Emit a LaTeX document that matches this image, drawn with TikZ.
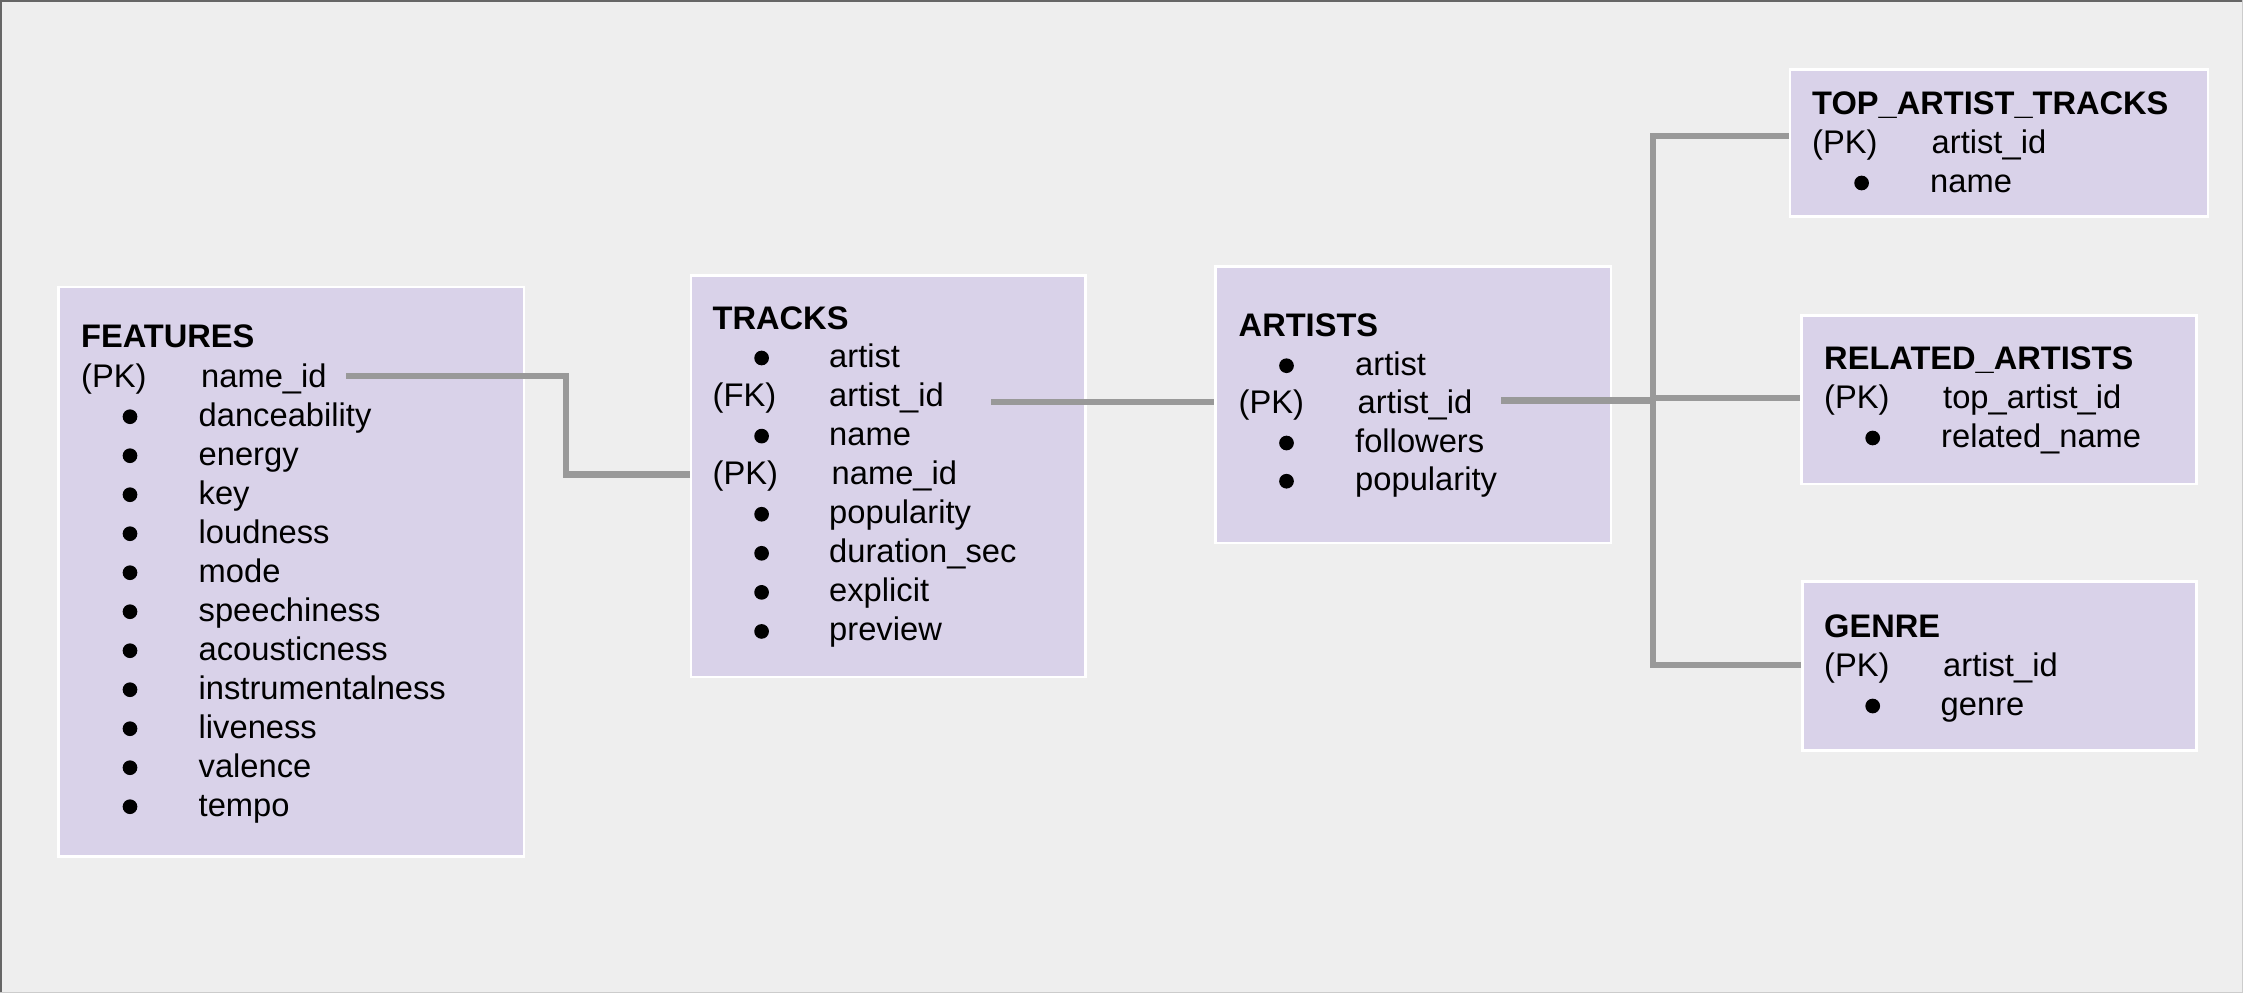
\documentclass[tikz,border=0pt]{standalone}
\usepackage{fontspec}
\setmainfont{Liberation Sans}
\definecolor{bgc}{HTML}{EEEEEE}
\definecolor{boxc}{HTML}{D9D2E9}
\definecolor{linec}{HTML}{999999}
\definecolor{framedark}{HTML}{666666}
\definecolor{framelight}{HTML}{CCCCCC}
\begin{document}
\begin{tikzpicture}[x=1pt,y=-1pt,
  tbl/.style={draw=white, line width=2.5pt, fill=boxc, anchor=north west, inner sep=0pt},
  conn/.style={draw=linec, line width=6.2pt},
  txt/.style={anchor=base west, inner sep=0pt, font=\fontsize{32.7}{39}\selectfont},
  ttl/.style={anchor=base west, inner sep=0pt, font=\fontsize{32.6}{39}\selectfont\bfseries},
  bul/.style={circle, fill=black, inner sep=0pt, minimum size=14.7pt},
]
\useasboundingbox (0,0) rectangle (2243,993);
\fill[bgc] (0,0) rectangle (2243,993);
\fill[framedark] (0,0) rectangle (2243,1.5);
\fill[framedark] (0,0) rectangle (1.7,993);
\fill[framelight] (2242,0) rectangle (2243,993);
\fill[framelight] (0,992) rectangle (2243,993);

% tables
\node[tbl, minimum width=465.5pt, minimum height=569.5pt] (features) at (57.3,285.7) {};
\node[tbl, minimum width=394.8pt, minimum height=401.7pt] (tracks) at (689.5,274) {};
\node[tbl, minimum width=395.4pt, minimum height=276.7pt] (artists) at (1214.4,265) {};
\node[tbl, minimum width=418.3pt, minimum height=146.9pt] (top) at (1788.6,68.4) {};
\node[tbl, minimum width=395.3pt, minimum height=168.5pt] (related) at (1800.1,314) {};
\node[tbl, minimum width=394.4pt, minimum height=168.9pt] (genre) at (1801,580.4) {};

% connectors
\coordinate (fA) at (346,376);
\draw[conn] (fA) -- ++(220,0) |- (tracks.west |- 0,474.5);
\coordinate (tB) at (991,402);
\draw[conn] (tB) -- (artists.west |- tB);
\coordinate (aB) at (1501,400.5);
\coordinate (bus) at (1653,400.5);
\draw[conn] (aB) -- (bus);
\draw[conn] (bus |- 0,397.7) -- (related.west |- 0,397.7);
\draw[conn] (top.west |- 0,136) -| (bus) |- (genre.west |- 0,665);

% FEATURES
\node[ttl] (ftitle) at (81,347) {FEATURES};
\node[txt] (fpk) at (81,387) {(PK)};
\node[txt] (fnid) at (201,387) {name\_id};
\foreach \t [count=\i] in {danceability,energy,key,loudness,mode,speechiness,acousticness,instrumentalness,liveness,valence,tempo}{
  \node[bul] (fb\i) at (130,{387+39*\i-9.3}) {};
  \node[txt] (ft\i) at (198.5,{387+39*\i}) {\t};
}

% TRACKS
\node[ttl] (ttitle) at (712.5,329) {TRACKS};
\node[bul] (tb0) at (761.6,{367.3-9.3}) {};
\node[txt] (tt0) at (829,367.3) {artist};
\node[txt] (tfk) at (712.5,406.4) {(FK)};
\node[txt] (tt1) at (829,406.4) {artist\_id};
\node[bul] (tb2) at (761.6,{445.4-9.3}) {};
\node[txt] (tt2) at (829,445.4) {name};
\node[txt] (tpk) at (712.5,484.5) {(PK)};
\node[txt] (tt3) at (831.5,484.5) {name\_id};
\foreach \t [count=\i from 4] in {popularity,duration\_sec,explicit,preview}{
  \node[bul] (tb\i) at (761.6,{367.3+39.06*\i-9.3}) {};
  \node[txt] (tt\i) at (829,{367.3+39.06*\i}) {\t};
}

% ARTISTS
\node[ttl] (atitle) at (1238.5,336) {ARTISTS};
\node[bul] (ab0) at (1286.5,{375-9.3}) {};
\node[txt] (at0) at (1355,375) {artist};
\node[txt] (apk) at (1238.5,413.7) {(PK)};
\node[txt] (at1) at (1357.5,413.7) {artist\_id};
\node[bul] (ab2) at (1286.5,{452.3-9.3}) {};
\node[txt] (at2) at (1355,452.3) {followers};
\node[bul] (ab3) at (1286.5,{490.5-9.3}) {};
\node[txt] (at3) at (1355,490.5) {popularity};

% TOP_ARTIST_TRACKS
\node[ttl] (ptitle) at (1812,114.3) {TOP\_ARTIST\_TRACKS};
\node[txt] (ppk) at (1812,153.3) {(PK)};
\node[txt] (pt1) at (1931.5,153.3) {artist\_id};
\node[bul] (pb2) at (1861.6,{192.3-9.3}) {};
\node[txt] (pt2) at (1930,192.3) {name};

% RELATED_ARTISTS
\node[ttl] (rtitle) at (1824,369.1) {RELATED\_ARTISTS};
\node[txt] (rpk) at (1824,408.2) {(PK)};
\node[txt] (rt1) at (1943,408.2) {top\_artist\_id};
\node[bul] (rb2) at (1872.7,{447.3-9.3}) {};
\node[txt] (rt2) at (1941,447.3) {related\_name};

% GENRE
\node[ttl] (gtitle) at (1824,637.7) {GENRE};
\node[txt] (gpk) at (1824,676.8) {(PK)};
\node[txt] (gt1) at (1943,676.8) {artist\_id};
\node[bul] (gb2) at (1872.7,{715.3-9.3}) {};
\node[txt] (gt2) at (1940.5,715.3) {genre};
\end{tikzpicture}
\end{document}
